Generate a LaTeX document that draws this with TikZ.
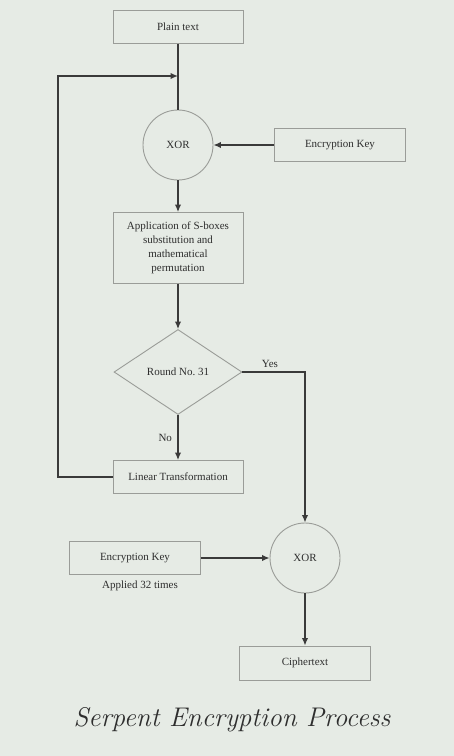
\documentclass[tikz,border=0pt]{standalone}
\usepackage{fontspec}
\setmainfont{Liberation Serif}
\newfontfamily\titlefont{Latin Modern Roman}
\usetikzlibrary{shapes.geometric,arrows.meta}
\definecolor{bg}{HTML}{E6EBE5}
\definecolor{txt}{HTML}{2E2E2E}
\definecolor{edge}{HTML}{9A9C98}
\definecolor{ln}{HTML}{3A3A3A}
\frenchspacing
\begin{document}
\begin{tikzpicture}[x=1pt,y=-1pt,
  font=\fontsize{11}{14}\selectfont, text=txt,
  stepbox/.style={draw=edge, line width=0.9pt, minimum width=130pt, minimum height=33pt, inner sep=0pt, align=center},
  xorc/.style={circle, draw=edge, line width=0.9pt, minimum size=70pt, inner sep=0pt},
  dec/.style={diamond, draw=edge, line width=0.9pt, minimum width=128pt, minimum height=85pt, inner sep=0pt, aspect=1.5},
  conn/.style={draw=ln, line width=1.4pt, -{Latex[length=7.5pt,width=6.5pt]}},
  plainline/.style={draw=ln, line width=1.4pt}]
\fill[bg] (0,0) rectangle (454,756);
\useasboundingbox (0,0) rectangle (454,756);

\node[stepbox] (plain) at (178,27) {Plain text};
\node[xorc] (x1) at (178,145) {XOR};
\node[stepbox, minimum width=131pt] (key1) at (340,145) {Encryption Key};
\node[stepbox, minimum height=71pt] (sbox) at (178,248) {Application of S-boxes\\substitution and\\mathematical\\permutation};
\node[dec] (dia) at (178,372) {Round No.\ 31};
\node[stepbox] (lin) at (178,477) {Linear Transformation};
\node[xorc] (x2) at (305,558) {XOR};
\node[stepbox, minimum width=131pt] (key2) at (135,558) {Encryption Key};
\node (app) at (140,586) {Applied 32 times};
\node[stepbox, minimum width=131pt, minimum height=34pt] (ciph) at (305,663) {Ciphertext};
\node[font=\titlefont\itshape\fontsize{27}{30}\selectfont] (title) at (232,720) {Serpent Encryption Process};

\coordinate (join) at (178,76);
\coordinate (lt) at (58,76);

\draw[plainline] (plain.south) -- (x1.north);
\draw[conn] (lin.west) -| (lt) -- (join);
\draw[conn] (key1.west) -- (x1.east);
\draw[conn] (x1.south) -- (sbox.north);
\draw[conn] (sbox.south) -- (dia.north);
\draw[conn] (dia.south) -- node[left=2pt] {No} (lin.north);
\draw[conn] (dia.east) -| node[above, pos=0.22] {Yes} (x2.north);
\draw[conn] (key2.east) -- (x2.west);
\draw[conn] (x2.south) -- (ciph.north);
\end{tikzpicture}
\end{document}
